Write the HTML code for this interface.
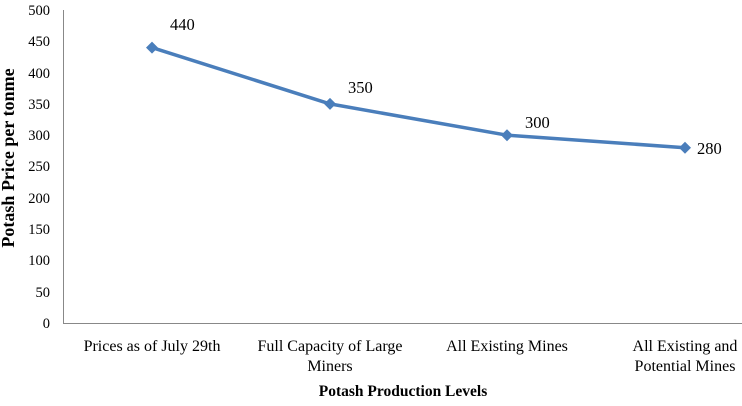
<!DOCTYPE html>
<html><head><meta charset="utf-8"><style>body{margin:0;background:#fff}</style></head><body>
<svg width="742" height="401" xmlns="http://www.w3.org/2000/svg" font-family="Liberation Serif, serif" font-size="14" fill="#000">
<line x1="63.5" y1="10" x2="63.5" y2="323.5" stroke="#888" stroke-width="1"/>
<line x1="63" y1="323.5" x2="742" y2="323.5" stroke="#888" stroke-width="1"/>
<g text-anchor="end" font-size="14.5">
<text x="50" y="328">0</text><text x="50" y="297">50</text><text x="50" y="265">100</text><text x="50" y="234">150</text><text x="50" y="203">200</text><text x="50" y="171">250</text><text x="50" y="140">300</text><text x="50" y="109">350</text><text x="50" y="78">400</text><text x="50" y="46">450</text><text x="50" y="15">500</text>
</g>
<g text-anchor="middle" font-size="16">
<text x="152" y="351">Prices as of July 29th</text>
<text x="330" y="351">Full Capacity of Large</text><text x="330" y="371">Miners</text>
<text x="507" y="351">All Existing Mines</text>
<text x="685" y="351">All Existing and</text><text x="685" y="371">Potential Mines</text>
</g>
<g text-anchor="middle" font-weight="bold">
<text x="403" y="396" font-size="15.5">Potash Production Levels</text>
<text transform="translate(14,158) rotate(-90)" font-size="18">Potash Price per tonme</text>
</g>
<polyline points="152,47.6 330,103.9 507,135.2 685,147.7" fill="none" stroke="#4a7ebb" stroke-width="3.5" stroke-linejoin="round"/>
<g fill="#4a7ebb">
<path d="M152,41.6 l6,6 -6,6 -6,-6z"/><path d="M330,97.9 l6,6 -6,6 -6,-6z"/><path d="M507,129.2 l6,6 -6,6 -6,-6z"/><path d="M685,141.7 l6,6 -6,6 -6,-6z"/>
</g>
<g font-size="16.5">
<text x="170" y="30">440</text><text x="348" y="93">350</text><text x="525" y="128">300</text><text x="697" y="154">280</text>
</g>
</svg>
</body></html>
